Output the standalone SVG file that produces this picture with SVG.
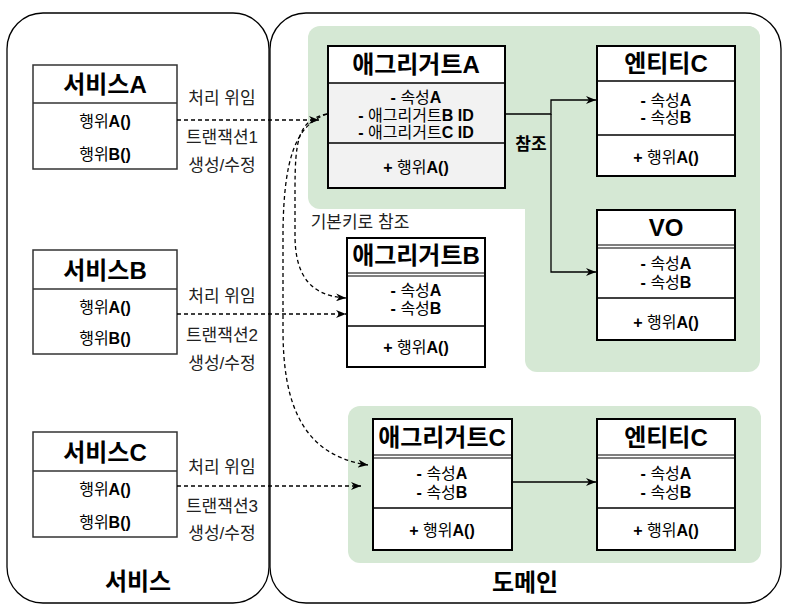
<svg xmlns="http://www.w3.org/2000/svg" width="794" height="614" viewBox="0 0 794 614">
  <defs>
    <style>
      text { font-family: "Liberation Sans", "Noto Sans CJK KR", sans-serif; fill: #000; }
      .container { fill: #fff; stroke: #000; stroke-width: 1.3; }
      .zone { fill: #d5e8d4; stroke: none; }
      .svc { fill: #fff; stroke: #333; stroke-width: 1.5; }
      .svc-line { stroke: #333; stroke-width: 1.5; }
      .cls { fill: #fff; stroke: #000; stroke-width: 2; }
      .cls-gray { fill: #f2f2f2; stroke: #000; stroke-width: 2; }
      .sep { stroke: #000; stroke-width: 1.5; }
      .sep2 { stroke: #000; stroke-width: 1; }
      .title { font-size: 24px; font-weight: bold; text-anchor: middle; }
      .item { font-size: 16px; font-weight: bold; text-anchor: middle; }
      .kr { font-weight: normal; }
      .label { font-size: 17px; fill: #222; text-anchor: middle; }
      .big { font-size: 24px; font-weight: bold; text-anchor: middle; }
      .flow { fill: none; stroke: #000; stroke-width: 1.3; stroke-dasharray: 4 3; }
      .ref { fill: none; stroke: #000; stroke-width: 1.3; }
    </style>
    <marker id="arrow" markerWidth="11" markerHeight="8" refX="10" refY="4" orient="auto" markerUnits="userSpaceOnUse">
      <path d="M0,0 L10,4 L0,8 L3,4 z" fill="#000"/>
    </marker>
  </defs>

  <!-- outer containers -->
  <g id="service-layer">
    <rect class="container" x="7" y="13" width="262" height="590" rx="36"/>
    <text class="big" x="138" y="590">서비스</text>
  </g>
  <g id="domain-layer">
    <rect class="container" x="270" y="13" width="511" height="590" rx="36"/>
    <text class="big" x="525" y="591">도메인</text>
  </g>

  <!-- green aggregate zones -->
  <g id="zone-a">
    <rect class="zone" x="308" y="26" width="452" height="183" rx="12"/>
    <rect class="zone" x="525" y="26" width="235" height="346" rx="12"/>
    <rect class="zone" x="525" y="190" width="30" height="30"/>
  </g>
  <g id="zone-c">
    <rect class="zone" x="348" y="406" width="413" height="157" rx="12"/>
  </g>

  <!-- services -->
  <g id="service-a">
    <rect class="svc" x="33" y="65" width="144" height="104"/>
    <line class="svc-line" x1="33" y1="103" x2="177" y2="103"/>
    <text class="title" x="105" y="93">서비스A</text>
    <text class="item" x="105" y="127"><tspan class="kr">행위</tspan>A()</text>
    <text class="item" x="105" y="160"><tspan class="kr">행위</tspan>B()</text>
  </g>
  <g id="service-b">
    <rect class="svc" x="33" y="250" width="144" height="104"/>
    <line class="svc-line" x1="33" y1="289" x2="177" y2="289"/>
    <text class="title" x="105" y="279">서비스B</text>
    <text class="item" x="105" y="313"><tspan class="kr">행위</tspan>A()</text>
    <text class="item" x="105" y="344"><tspan class="kr">행위</tspan>B()</text>
  </g>
  <g id="service-c">
    <rect class="svc" x="33" y="432" width="144" height="105"/>
    <line class="svc-line" x1="33" y1="471" x2="177" y2="471"/>
    <text class="title" x="105" y="461">서비스C</text>
    <text class="item" x="105" y="495"><tspan class="kr">행위</tspan>A()</text>
    <text class="item" x="105" y="528"><tspan class="kr">행위</tspan>B()</text>
  </g>

  <!-- domain classes -->
  <g id="aggregate-a">
    <rect class="cls-gray" x="328" y="46" width="177" height="142"/>
    <rect x="329" y="47" width="175" height="36" fill="#fff"/>
    <line class="sep" x1="328" y1="83" x2="505" y2="83"/>
    <line class="sep" x1="328" y1="143" x2="505" y2="143"/>
    <text class="title" x="416" y="73">애그리거트A</text>
    <text class="item" x="416" y="103">- <tspan class="kr">속성</tspan>A</text>
    <text class="item" x="416" y="121">- <tspan class="kr">애그리거트</tspan>B ID</text>
    <text class="item" x="416" y="138">- <tspan class="kr">애그리거트</tspan>C ID</text>
    <text class="item" x="416" y="173">+ <tspan class="kr">행위</tspan>A()</text>
  </g>
  <g id="entity-c-top">
    <rect class="cls" x="597" y="46" width="138" height="130"/>
    <line class="sep" x1="597" y1="81" x2="735" y2="81"/>
    <line class="sep" x1="597" y1="135" x2="735" y2="135"/>
    <text class="title" x="666" y="72">엔티티C</text>
    <text class="item" x="666" y="106">- <tspan class="kr">속성</tspan>A</text>
    <text class="item" x="666" y="123">- <tspan class="kr">속성</tspan>B</text>
    <text class="item" x="666" y="163">+ <tspan class="kr">행위</tspan>A()</text>
  </g>
  <g id="vo">
    <rect class="cls" x="597" y="210" width="138" height="130"/>
    <line class="sep2" x1="597" y1="245" x2="735" y2="245"/>
    <line class="sep2" x1="597" y1="248" x2="735" y2="248"/>
    <line class="sep" x1="597" y1="298" x2="735" y2="298"/>
    <text class="title" x="666" y="236">VO</text>
    <text class="item" x="666" y="269">- <tspan class="kr">속성</tspan>A</text>
    <text class="item" x="666" y="288">- <tspan class="kr">속성</tspan>B</text>
    <text class="item" x="666" y="328">+ <tspan class="kr">행위</tspan>A()</text>
  </g>
  <g id="aggregate-b">
    <rect class="cls" x="347" y="238" width="138" height="129"/>
    <line class="sep2" x1="347" y1="273" x2="485" y2="273"/>
    <line class="sep2" x1="347" y1="276" x2="485" y2="276"/>
    <line class="sep" x1="347" y1="326" x2="485" y2="326"/>
    <text class="title" x="416" y="264">애그리거트B</text>
    <text class="item" x="416" y="296">- <tspan class="kr">속성</tspan>A</text>
    <text class="item" x="416" y="314">- <tspan class="kr">속성</tspan>B</text>
    <text class="item" x="416" y="353">+ <tspan class="kr">행위</tspan>A()</text>
  </g>
  <g id="aggregate-c">
    <rect class="cls" x="373" y="419" width="139" height="131"/>
    <line class="sep2" x1="373" y1="455" x2="512" y2="455"/>
    <line class="sep2" x1="373" y1="458" x2="512" y2="458"/>
    <line class="sep" x1="373" y1="508" x2="512" y2="508"/>
    <text class="title" x="442" y="446">애그리거트C</text>
    <text class="item" x="442" y="479">- <tspan class="kr">속성</tspan>A</text>
    <text class="item" x="442" y="498">- <tspan class="kr">속성</tspan>B</text>
    <text class="item" x="442" y="536">+ <tspan class="kr">행위</tspan>A()</text>
  </g>
  <g id="entity-c-bottom">
    <rect class="cls" x="597" y="419" width="138" height="131"/>
    <line class="sep2" x1="597" y1="455" x2="735" y2="455"/>
    <line class="sep2" x1="597" y1="458" x2="735" y2="458"/>
    <line class="sep" x1="597" y1="508" x2="735" y2="508"/>
    <text class="title" x="666" y="446">엔티티C</text>
    <text class="item" x="666" y="479">- <tspan class="kr">속성</tspan>A</text>
    <text class="item" x="666" y="498">- <tspan class="kr">속성</tspan>B</text>
    <text class="item" x="666" y="536">+ <tspan class="kr">행위</tspan>A()</text>
  </g>

  <!-- connectors -->
  <g id="connectors">
    <path class="flow" d="M177,120 L319,120" marker-end="url(#arrow)"/>
    <path class="flow" d="M177,314 L346,314" marker-end="url(#arrow)"/>
    <path class="flow" d="M177,486 L361,486" marker-end="url(#arrow)"/>
    <path class="flow" d="M327,114 C298,120 295,140 295,190 L295,235 C295,275 310,296 346,298" marker-end="url(#arrow)"/>
    <path class="flow" d="M327,114 C295,125 284,160 283,230 L283,330 C283,400 300,455 368,465" marker-end="url(#arrow)"/>
    <path class="ref" d="M505,114 L551,114 L551,100 L596,100" marker-end="url(#arrow)"/>
    <path class="ref" d="M551,114 L551,272 L596,272" marker-end="url(#arrow)"/>
    <path class="ref" d="M512,482 L596,482" marker-end="url(#arrow)"/>
  </g>

  <!-- connector labels -->
  <g id="labels">
    <text class="label" x="222" y="104">처리 위임</text>
    <text class="label" x="222" y="143">트랜잭션1</text>
    <text class="label" x="222" y="171">생성/수정</text>
    <text class="label" x="222" y="302">처리 위임</text>
    <text class="label" x="222" y="341">트랜잭션2</text>
    <text class="label" x="222" y="369">생성/수정</text>
    <text class="label" x="222" y="473">처리 위임</text>
    <text class="label" x="222" y="512">트랜잭션3</text>
    <text class="label" x="222" y="539">생성/수정</text>
    <text class="label" x="360" y="228">기본키로 참조</text>
    <text x="531" y="150" font-size="17" font-weight="bold" text-anchor="middle">참조</text>
  </g>
</svg>
